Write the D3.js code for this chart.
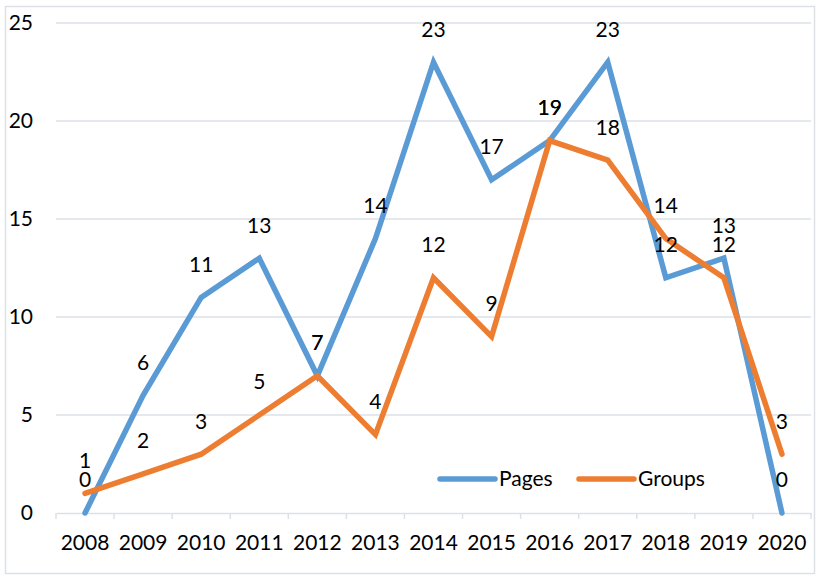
<!DOCTYPE html>
<html>
<head>
<meta charset="utf-8">
<script src="https://cdn.jsdelivr.net/npm/d3@7"></script>
<style>
  body { margin: 0; background: #fff; }
  svg { display: block; font-family: Lato, "Open Sans", sans-serif; }
</style>
</head>
<body>
<div id="chart"></div>
<script>
const years = ["2008", "2009", "2010", "2011", "2012", "2013", "2014", "2015", "2016", "2017", "2018", "2019", "2020"];
const pages = [0, 6, 11, 13, 7, 14, 23, 17, 19, 23, 12, 13, 0];
const groups = [1, 2, 3, 5, 7, 4, 12, 9, 19, 18, 14, 12, 3];
const yTicks = [0, 5, 10, 15, 20, 25];

const width = 816, height = 576;
const margin = { top: 23, right: 5, bottom: 63, left: 56 };
const fontSize = 21;

const svg = d3.select("#chart").append("svg")
  .attr("width", width)
  .attr("height", height);

// chart border
svg.append("rect")
  .attr("x", 5.5).attr("y", 6.5)
  .attr("width", width - 7).attr("height", height - 9)
  .attr("fill", "none")
  .attr("stroke", "#dde1e6")
  .attr("stroke-width", 1.5);

const x = d3.scaleBand()
  .domain(years)
  .range([margin.left, width - margin.right]);

const y = d3.scaleLinear()
  .domain([0, 25])
  .range([height - margin.bottom, margin.top]);

// gridlines
svg.append("g")
  .selectAll("line")
  .data(yTicks.slice(1))
  .join("line")
  .attr("x1", margin.left).attr("x2", width - margin.right)
  .attr("y1", (d) => y(d)).attr("y2", (d) => y(d))
  .attr("stroke", "#dde1e6")
  .attr("stroke-width", 1.5);

// y labels
svg.append("g")
  .selectAll("text")
  .data(yTicks)
  .join("text")
  .attr("x", 33)
  .attr("y", (d) => y(d))
  .attr("dy", "0.35em")
  .attr("text-anchor", "end")
  .attr("font-size", fontSize)
  .attr("fill", "#000")
  .text((d) => d);

// x axis
const xAxis = (g) =>
  g
    .attr("transform", `translate(0,${ y(0) })`)
    .call(d3.axisBottom(x).tickSize(0).tickPadding(22))
    .call((g) => g.select(".domain").attr("stroke", "#dde1e6").attr("stroke-width", 1.5))
    .call((g) => g.selectAll("text").attr("font-size", fontSize).attr("fill", "#000").attr("font-family", "Lato, 'Open Sans', sans-serif"));

svg.append("g").call(xAxis);

// band tick marks
svg.append("g")
  .selectAll("line")
  .data(years.map((d) => x(d)).concat([x(years[years.length - 1]) + x.bandwidth()]))
  .join("line")
  .attr("x1", (d) => d).attr("x2", (d) => d)
  .attr("y1", y(0)).attr("y2", y(0) + 6)
  .attr("stroke", "#dde1e6")
  .attr("stroke-width", 1.5);

const series = [
  { name: "Pages", values: pages, color: "#5b9bd5" },
  { name: "Groups", values: groups, color: "#ed7d31" }
];

const line = d3.line()
  .x((d, i) => x(years[i]) + x.bandwidth() / 2)
  .y((d) => y(d));

svg.append("g")
  .selectAll("path")
  .data(series)
  .join("path")
  .attr("d", (d) => line(d.values))
  .attr("fill", "none")
  .attr("stroke", (d) => d.color)
  .attr("stroke-width", 5.5)
  .attr("stroke-linejoin", "miter")
  .attr("stroke-linecap", "round");

// data labels
series.forEach((s) => {
  svg.append("g")
    .selectAll("text")
    .data(s.values)
    .join("text")
    .attr("x", (d, i) => x(years[i]) + x.bandwidth() / 2)
    .attr("y", (d) => y(d) - 33)
    .attr("dy", "0.35em")
    .attr("text-anchor", "middle")
    .attr("font-size", fontSize)
    .attr("fill", "#000")
    .text((d) => d);
});

// legend
const legend = svg.append("g")
  .selectAll("g")
  .data(series)
  .join("g")
  .attr("transform", (d, i) => `translate(${ 440 + i * 139 },479)`);

legend.append("line")
  .attr("x1", 0).attr("x2", 55)
  .attr("stroke", (d) => d.color)
  .attr("stroke-width", 5.5)
  .attr("stroke-linecap", "round");

legend.append("text")
  .attr("x", 59)
  .attr("dy", "0.35em")
  .attr("font-size", fontSize)
  .attr("fill", "#000")
  .text((d) => d.name);
</script>
</body>
</html>
